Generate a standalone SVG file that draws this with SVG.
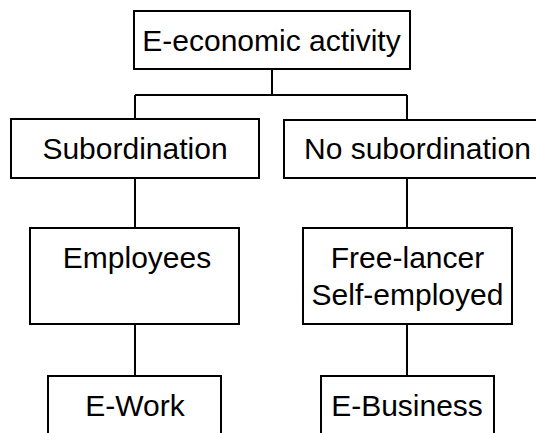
<svg xmlns="http://www.w3.org/2000/svg" width="536" height="433" viewBox="0 0 536 433">
<style>
.box{fill:#fff;stroke:#000;stroke-width:2}
.ln{fill:none;stroke:#000;stroke-width:2}
text{font-family:"Liberation Sans",Arial,sans-serif;font-size:30px;fill:#000;text-anchor:middle}
</style>
<rect width="536" height="433" fill="#fff"/>
<g id="connectors">
<path class="ln" d="M272 69V95M135 95H407M135 95V119M407 95V120M135 178V228M407 178V228M135 324V376M407 324V376"/>
</g>
<g id="n-root"><rect class="box" x="134" y="11" width="276" height="58"/><text x="271.5" y="51">E-economic activity</text></g>
<g id="n-sub"><rect class="box" x="11" y="119" width="248" height="59"/><text x="135" y="159">Subordination</text></g>
<g id="n-nosub"><rect class="box" x="284" y="120" width="260" height="58"/><text x="304" y="159" style="text-anchor:start">No subordination</text></g>
<g id="n-emp"><rect class="box" x="30" y="228" width="209" height="96"/><text x="137" y="268">Employees</text></g>
<g id="n-free"><rect class="box" x="303" y="228" width="209" height="96"/><text x="407.5" y="268">Free-lancer</text><text x="407.5" y="305">Self-employed</text></g>
<g id="n-ework"><rect class="box" x="48" y="376" width="173" height="70"/><text x="135" y="416">E-Work</text></g>
<g id="n-ebus"><rect class="box" x="321" y="376" width="173" height="70"/><text x="407" y="416">E-Business</text></g>
</svg>
